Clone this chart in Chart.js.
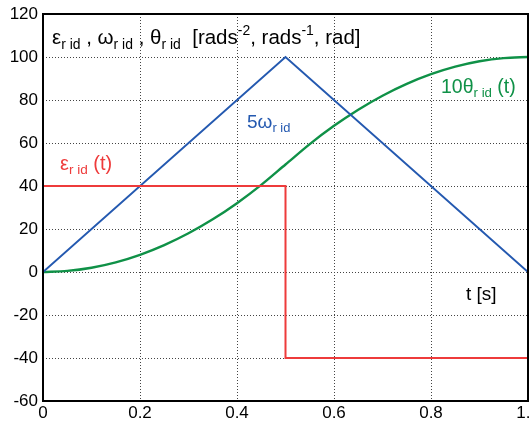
<!DOCTYPE html>
<html>
<head>
<meta charset="utf-8">
<script src="https://cdn.jsdelivr.net/npm/chart.js@4/dist/chart.umd.min.js"></script>
<style>
  html, body { margin: 0; padding: 0; background: #fff; }
  #wrap { width: 530px; height: 424px; position: relative; }
</style>
</head>
<body>
<div id="wrap"><canvas id="chart"></canvas></div>
<script>
// time axis samples (s)
const tValues = [0, 0.05, 0.1, 0.15, 0.2, 0.25, 0.3, 0.35, 0.4, 0.45, 0.5,
                 0.55, 0.6, 0.65, 0.7, 0.75, 0.8, 0.85, 0.9, 0.95, 1];
// 10 * theta
const thetaValues = [0, 0.5, 2, 4.5, 8, 12.5, 18, 24.5, 32, 40.5, 50,
                     59.5, 68, 75.5, 82, 87.5, 92, 95.5, 98, 99.5, 100];
// 5 * omega, triangle
const omegaT = [0, 0.5, 1];
const omegaValues = [0, 100, 0];
// epsilon, step
const epsT = [0, 0.5, 0.5, 1];
const epsValues = [40, 40, -40, -40];

const xTicks = [0, 0.2, 0.4, 0.6, 0.8, 1];
const yTicks = [-60, -40, -20, 0, 20, 40, 60, 80, 100, 120];

const RED = '#ee3b3b';
const BLUE = '#2459b0';
const GREEN = '#0f9147';
const FONT = '"Liberation Sans", Arial, sans-serif';

function toPoints(xs, ys) {
    return xs.map((x, i) => ({ x: x, y: ys[i] }));
}

// draw text made of pieces, some of them subscript / superscript
function richText(ctx, x, y, parts, size, color) {
    ctx.save();
    ctx.fillStyle = color;
    ctx.textBaseline = 'alphabetic';
    ctx.textAlign = 'left';
    parts.forEach(p => {
        let s = size, dy = 0;
        if (p.sub) { s = size * 0.68; dy = size * 0.22; }
        if (p.sup) { s = size * 0.68; dy = -size * 0.42; }
        ctx.font = s + 'px ' + FONT;
        ctx.fillText(p.t, x, y + dy);
        x += ctx.measureText(p.t).width;
    });
    ctx.restore();
}

// dotted grid, drawn under the lines
const gridPlugin = {
    id: 'dotgrid',
    beforeDatasetsDraw(chart) {
        const ctx = chart.ctx;
        const a = chart.chartArea;
        const xs = chart.scales.x, ys = chart.scales.y;
        ctx.save();
        ctx.strokeStyle = '#444';
        ctx.lineWidth = 1;
        ctx.setLineDash([1, 2]);
        xTicks.forEach(v => {
            const px = Math.round(xs.getPixelForValue(v)) + 0.5;
            ctx.beginPath(); ctx.moveTo(px, a.top); ctx.lineTo(px, a.bottom); ctx.stroke();
        });
        yTicks.forEach(v => {
            const py = Math.round(ys.getPixelForValue(v)) + 0.5;
            ctx.beginPath(); ctx.moveTo(a.left, py); ctx.lineTo(a.right, py); ctx.stroke();
        });
        ctx.restore();
    }
};

const labelsPlugin = {
    id: 'labels',
    afterDraw(chart) {
        const ctx = chart.ctx;
        const a = chart.chartArea;

        // frame round the plot
        ctx.save();
        ctx.strokeStyle = '#000';
        ctx.lineWidth = 2;
        ctx.strokeRect(a.left, a.top, a.right - a.left, a.bottom - a.top);
        ctx.restore();

        richText(ctx, 52, 44, [
            { t: '\u03b5' }, { t: 'r id', sub: true }, { t: ' , \u03c9' }, { t: 'r id', sub: true },
            { t: ' , \u03b8' }, { t: 'r id', sub: true }, { t: '  [rads' }, { t: '-2', sup: true },
            { t: ', rads' }, { t: '-1', sup: true }, { t: ', rad]' }
        ], 20.5, '#000');

        richText(ctx, 247, 128, [{ t: '5\u03c9' }, { t: 'r id', sub: true }], 19, BLUE);
        richText(ctx, 60, 170, [{ t: '\u03b5' }, { t: 'r id', sub: true }, { t: ' (t)' }], 20, RED);
        richText(ctx, 441, 93, [{ t: '10\u03b8' }, { t: 'r id', sub: true }, { t: ' (t)' }], 19.5, GREEN);
        richText(ctx, 466, 300, [{ t: 't [s]' }], 19, '#000');
    }
};

new Chart(document.getElementById('chart'), {
    type: 'line',
    data: {
        datasets: [
            { label: 'eps', data: toPoints(epsT, epsValues), borderColor: RED, borderWidth: 2 },
            { label: 'omega', data: toPoints(omegaT, omegaValues), borderColor: BLUE, borderWidth: 2 },
            { label: 'theta', data: toPoints(tValues, thetaValues), borderColor: GREEN, borderWidth: 2.4, tension: 0.3 }
        ]
    },
    options: {
        responsive: true,
        maintainAspectRatio: false,
        animation: false,
        elements: { point: { radius: 0 } },
        layout: { padding: { top: 14, right: 2, left: 0, bottom: 0 } },
        plugins: { legend: { display: false }, tooltip: { enabled: false } },
        scales: {
            x: {
                type: 'linear',
                min: 0, max: 1,
                afterBuildTicks: s => { s.ticks = xTicks.map(v => ({ value: v })); },
                afterFit: s => { s.height = 23; s.paddingLeft = 0; s.paddingRight = 0; },
                ticks: { color: '#000', font: { family: FONT, size: 17 }, padding: 2, maxRotation: 0 },
                grid: { display: false, drawTicks: false },
                border: { display: false }
            },
            y: {
                min: -60, max: 120,
                afterBuildTicks: s => { s.ticks = yTicks.map(v => ({ value: v })); },
                afterFit: s => { s.width = 43; s.paddingTop = 0; s.paddingBottom = 0; },
                ticks: { color: '#000', font: { family: FONT, size: 17 }, padding: 5 },
                grid: { display: false, drawTicks: false },
                border: { display: false }
            }
        }
    },
    plugins: [gridPlugin, labelsPlugin]
});
</script>
</body>
</html>
